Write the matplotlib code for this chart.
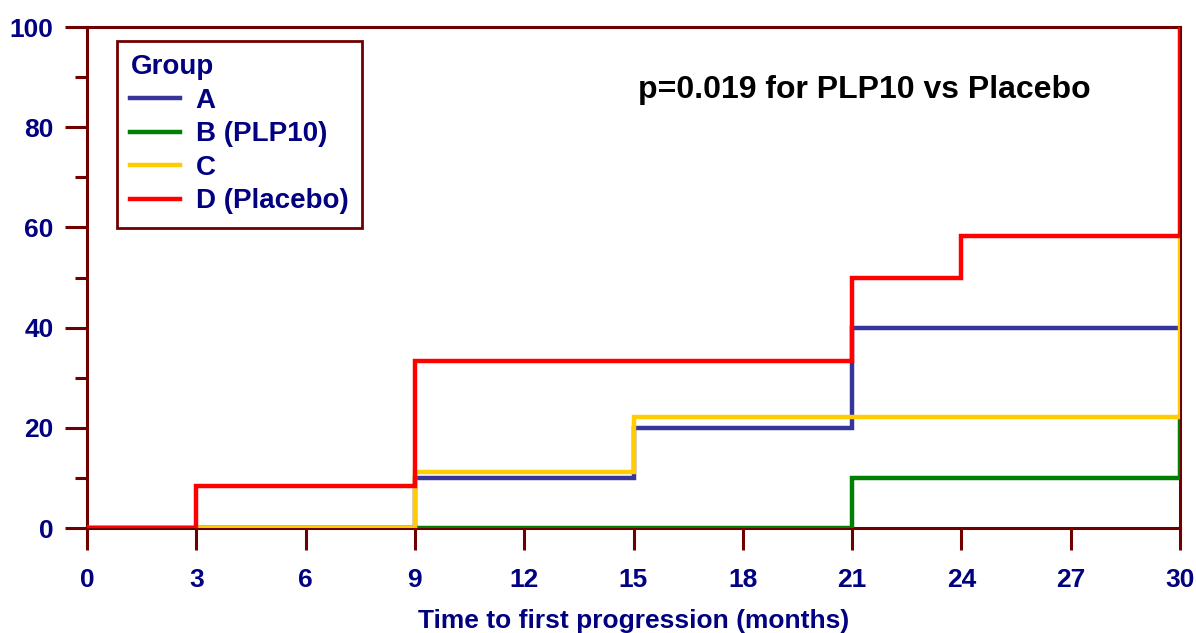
import matplotlib.pyplot as plt
import numpy as np

plt.rcParams['font.family'] = ['Liberation Sans', 'DejaVu Sans']
plt.rcParams['font.weight'] = 'bold'

# step data (months, % progressed)
t_a = [0, 9, 15, 21, 30]
y_a = [0, 10, 20, 40, 40]
t_b = [0, 21, 30]
y_b = [0, 10, 22.2]
t_c = [0, 9, 15, 30]
y_c = [0, 11.1, 22.2, 58.3]
t_d = [0, 3, 9, 21, 24, 30]
y_d = [0, 8.3, 33.3, 50, 58.3, 100]

labels = ["A", "B (PLP10)", "C", "D (Placebo)"]
colors = ["#35359c", "#008000", "#ffcc00", "#ff0000"]
xticks = np.arange(0, 31, 3)

navy = "#000080"
axcol = "#700000"

fig = plt.figure(figsize=(11.96, 6.33), dpi=100)
ax = fig.add_axes([87/1196, 105/633, 1093/1196, 501/633])

for t, y, lab, c in zip([t_a, t_b, t_c, t_d], [y_a, y_b, y_c, y_d], labels, colors):
    ax.step(t, y, where='post', color=c, lw=3.2, label=lab, solid_joinstyle='miter')

ax.set_xlim(0, 30)
ax.set_ylim(0, 100)
ax.set_xticks(xticks)
ax.set_yticks(np.arange(0, 101, 20))
ax.set_yticks(np.arange(10, 100, 20), minor=True)

for s in ax.spines.values():
    s.set_color(axcol)
    s.set_linewidth(2.2)
    s.set_zorder(0.5)

ax.tick_params(axis='x', which='major', length=16, width=2.2, color=axcol,
               labelsize=19, labelcolor=navy, pad=13)
ax.tick_params(axis='y', which='major', length=16, width=2.2, color=axcol,
               labelsize=19, labelcolor=navy, pad=8)
ax.tick_params(axis='y', which='minor', length=9, width=2.2, color=axcol)
for lb in ax.get_xticklabels() + ax.get_yticklabels():
    lb.set_fontweight('bold')

ax.set_xlabel("Time to first progression (months)", fontsize=19, fontweight='bold',
              color=navy, labelpad=12)

ax.text(0.918, 0.875, "p=0.019 for PLP10 vs Placebo", transform=ax.transAxes,
        ha='right', va='center', fontsize=23, fontweight='bold', color='black')

leg = ax.legend(title="Group", loc='upper left', bbox_to_anchor=(0.027, 0.973),
                frameon=True, fancybox=False, edgecolor=axcol, framealpha=1,
                labelcolor=navy, fontsize=20, title_fontsize=20, alignment='left',
                handlelength=1.8, handletextpad=0.55, labelspacing=0.27,
                borderpad=0.5, borderaxespad=0)
leg.get_frame().set_linewidth(2)
leg.get_title().set_color(navy)
leg.get_title().set_fontweight('bold')
for tx in leg.get_texts():
    tx.set_fontweight('bold')
for ln in leg.get_lines():
    ln.set_linewidth(3.2)

fig.savefig("out.png", dpi=100)
